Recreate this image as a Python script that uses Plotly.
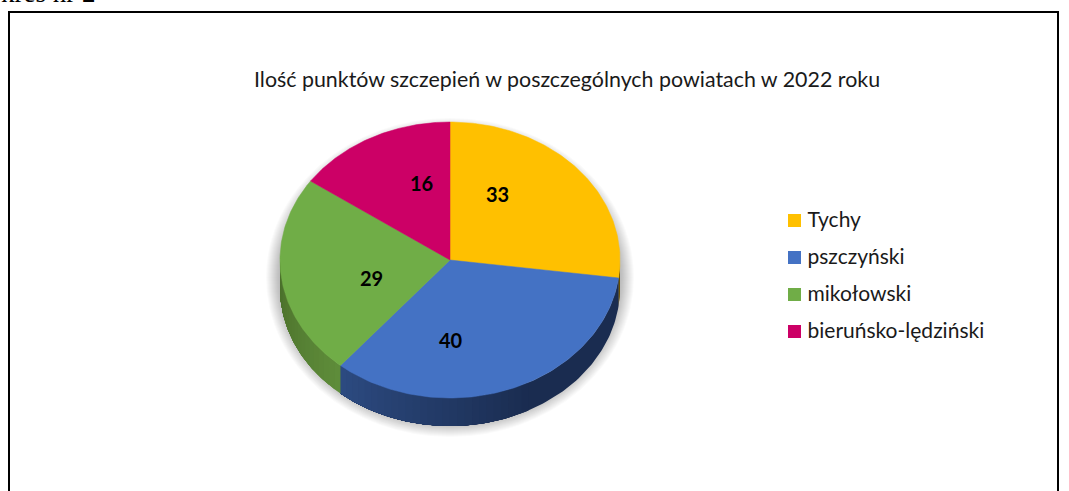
import numpy as np
import plotly.graph_objects as go

categories = ["Tychy", "pszczyński", "mikołowski", "bieruńsko-lędziński"]
values = [33, 40, 29, 16]
colors = ["#FFC000", "#4472C4", "#70AD47", "#CC0066"]
side_start = ["#7A5C00", "#1A2C50", "#5E8C3A", "#7A003D"]
side_end = ["#5E4700", "#2C4A80", "#4A6E2A", "#7A003D"]
title_text = "Ilość punktów szczepień w poszczególnych powiatach w 2022 roku"
caption_text = "kres nr 2"

W, H = 1069, 491
CX, CY, RX, RY, DEPTH = 450, 260, 170, 138, 28
label_radius = 0.55
label_nudge = [(-24, -18), (-28, 8), (15, 14), (10, -8)]
# slight shift of the slice edges caused by the 3-D view of the original
view_shift_deg = [0, -3.2, -2.6, -6.3, 0]
LEGEND_X, LEGEND_Y, LEGEND_STEP = 794.5, 220, 37


def pt(t):
    return CX + RX * np.sin(t), CY - RY * np.cos(t)


def mix(a, b, f):
    ca = [int(a[i:i + 2], 16) for i in (1, 3, 5)]
    cb = [int(b[i:i + 2], 16) for i in (1, 3, 5)]
    return "rgb(%d,%d,%d)" % tuple(round(p + (q - p) * f) for p, q in zip(ca, cb))


true_edges = np.concatenate([[0], np.cumsum(values)]) / sum(values) * 2 * np.pi
edges = true_edges + np.radians(view_shift_deg)
fig = go.Figure()

# extruded wall: each band runs to the end of its slice, the next one paints over it
for i in range(len(values)):
    lo, hi = max(edges[i], np.pi / 2), min(edges[i + 1], 3 * np.pi / 2)
    if hi <= lo:
        continue
    n = max(1, int((hi - lo) / np.radians(2.5)))
    ts = np.linspace(lo, hi, n + 1)
    for k in range(n):
        f = k / max(1, n - 1)
        if i == 1:
            f = max(0, (f - 0.45) / 0.55)
            if f == 0 and k > 0:
                continue
        tt = np.linspace(ts[k], hi, 100)
        x, y = pt(tt)
        fig.add_trace(go.Scatter(
            x=np.concatenate([x, x[::-1]]), y=np.concatenate([y, y[::-1] + DEPTH]),
            mode="lines", fill="toself", fillcolor=mix(side_start[i], side_end[i], f),
            line=dict(width=0), showlegend=False, hoverinfo="skip"))

# top face
for i, cat in enumerate(categories):
    tt = np.linspace(edges[i], edges[i + 1], 120)
    x, y = pt(tt)
    fig.add_trace(go.Scatter(
        x=np.concatenate([[CX], x, [CX]]), y=np.concatenate([[CY], y, [CY]]),
        mode="lines", fill="toself", fillcolor=colors[i], line=dict(color=colors[i], width=0.5),
        name=cat, showlegend=False, hoverinfo="skip"))

# legend column
legend_rows = [LEGEND_Y + 0.5 + LEGEND_STEP * i for i in range(len(categories))]
fig.add_trace(go.Scatter(
    x=[LEGEND_X] * len(categories), y=legend_rows, mode="markers",
    marker=dict(symbol="square", size=13, color=colors),
    showlegend=False, hoverinfo="skip"))
fig.add_trace(go.Scatter(
    x=[LEGEND_X + 13] * len(categories), y=[r + 1.5 for r in legend_rows],
    mode="text", text=categories, textposition="middle right",
    textfont=dict(family="Lato", size=21, color="#1a1a1a"),
    showlegend=False, hoverinfo="skip", cliponaxis=False))

annotations = [
    dict(x=567, y=79, text=title_text, showarrow=False, xanchor="center", yanchor="middle",
         font=dict(family="Lato", size=21.4, color="#1a1a1a")),
    dict(x=0, y=10, xshift=-1, text=caption_text, showarrow=False, xanchor="left", yanchor="bottom",
         font=dict(family="Liberation Serif", size=27, color="black")),
]
for i, v in enumerate(values):
    mid = (true_edges[i] + true_edges[i + 1]) / 2
    x = CX + RX * label_radius * np.sin(mid)
    y = CY - RY * label_radius * np.cos(mid)
    annotations.append(dict(
        x=x, y=y, text="<b>%d</b>" % v, showarrow=False,
        xshift=label_nudge[i][0], yshift=-label_nudge[i][1],
        font=dict(family="Lato", size=20, color="black")))

shapes = []
for g in range(14):
    grow = 14 - g
    shapes.append(dict(type="circle", xref="x", yref="y", layer="below",
                       x0=CX - RX - grow, x1=CX + RX + grow,
                       y0=CY - RY + 10 - grow, y1=CY + RY + DEPTH + grow - 3,
                       fillcolor="rgba(0,0,0,0.02)", line=dict(width=0)))
shapes.append(dict(type="rect", xref="x", yref="y", x0=9, x1=1058, y0=12, y1=520,
                   line=dict(color="black", width=2), layer="below"))

fig.update_layout(
    width=W, height=H, margin=dict(l=0, r=0, t=0, b=0),
    paper_bgcolor="white", plot_bgcolor="white", showlegend=False,
    xaxis=dict(range=[0, W], visible=False, fixedrange=True),
    yaxis=dict(range=[H, 0], visible=False, fixedrange=True),
    shapes=shapes, annotations=annotations,
)
fig.write_html("out.html", config=dict(displayModeBar=False),
               post_script="document.body.style.margin='0';")
